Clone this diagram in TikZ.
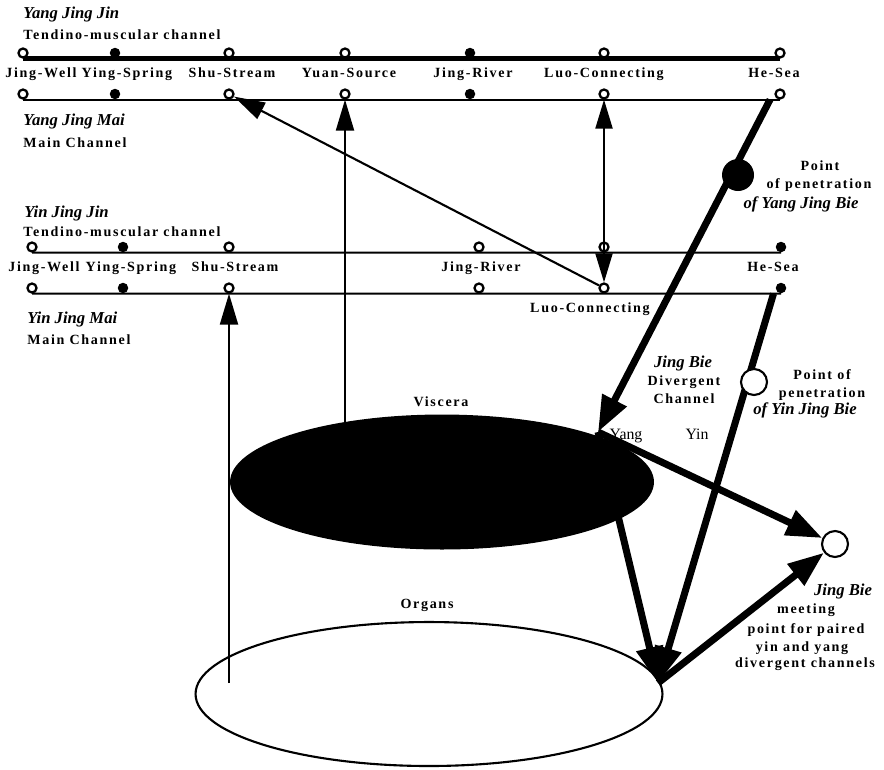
\documentclass[tikz,border=0pt]{standalone}
\usepackage{fontspec}
\setmainfont{Liberation Serif}
\newfontfamily\spacedfont[LetterSpace=12]{Liberation Serif}
\usetikzlibrary{arrows.meta}
\usetikzlibrary{shapes.geometric}

\tikzset{
  opt/.style={circle,draw,line width=1.3pt,fill=white,inner sep=0pt,minimum size=0.18cm},
  fpt/.style={circle,fill,inner sep=0pt,minimum size=0.21cm},
  lbl/.style={font=\spacedfont\bfseries\fontsize{8}{9}\selectfont,inner sep=0pt,anchor=base},
  ttl/.style={font=\bfseries\itshape\fontsize{9.5}{11}\selectfont,inner sep=0pt,anchor=base west},
  plain/.style={font=\fontsize{9}{10}\selectfont,inner sep=0pt,anchor=base},
  thinarrow/.style={line width=1.2pt,-{Triangle[length=0.62cm,width=0.36cm]}},
  thinboth/.style={line width=1.2pt,{Triangle[length=0.58cm,width=0.34cm]}-{Triangle[length=0.58cm,width=0.34cm]}},
  fatarrow/.style={line width=4pt,-{Triangle[length=0.72cm,width=0.52cm]}},
}

\begin{document}
\begin{tikzpicture}[x=0.02cm,y=-0.02cm]
\useasboundingbox (0,0) rectangle (884,769);

% yang points
\foreach \x/\k/\s in {23/1/opt,115/2/fpt,229/3/opt,345/4/opt,470/5/fpt,604/6/opt,780/7/opt}{
  \node[\s] (yangjin\k) at (\x,53) {};
  \node[\s] (yangmai\k) at (\x,94) {};
}
% yin points
\foreach \x/\k/\s in {32/1/opt,123/2/fpt,229/3/opt,479/5/opt,604/6/opt,781/7/fpt}{
  \node[\s] (yinjin\k) at (\x,247) {};
  \node[\s] (yinmai\k) at (\x,288) {};
}
\draw[line width=2.8pt] (yangjin1.south) -- (yangjin7.south);
\draw[line width=1.2pt] (yangmai1.south) -- (yangmai7.south);
\draw[line width=1.2pt] (yinjin1.south) -- (yinjin7.south);
\draw[line width=1.2pt] (yinmai1.south) -- (yinmai7.south);

% titles
\node[ttl] (yangjinname) at (23,18) {Yang Jing Jin};
\node[lbl,anchor=base west] (yangjintype) at (23,39) {Tendino-muscular channel};
\node[ttl] (yangmainame) at (23,125) {Yang Jing Mai};
\node[lbl,anchor=base west] (yangmaitype) at (23,147) {Main Channel};
\node[ttl] (yinjinname) at (24,217) {Yin Jing Jin};
\node[lbl,anchor=base west] (yinjintype) at (23,236) {Tendino-muscular channel};
\node[ttl] (yinmainame) at (27,323) {Yin Jing Mai};
\node[lbl,anchor=base west] (yinmaitype) at (27,344) {Main Channel};

% point names
\foreach \x/\t [count=\i] in {41/Jing-Well,127/Ying-Spring,232/Shu-Stream,349/Yuan-Source,473/Jing-River,604/Luo-Connecting,774/He-Sea}
  \node[lbl] (yangname\i) at (\x,77) {\t};
\foreach \x/\t [count=\i] in {44/Jing-Well,131/Ying-Spring,235/Shu-Stream,481/Jing-River,773/He-Sea}
  \node[lbl] (yinname\i) at (\x,271) {\t};
\node[lbl] (yinluo) at (590,312) {Luo-Connecting};

% viscera and organs
\node[ellipse,fill,minimum width=8.48cm,minimum height=2.7cm,inner sep=0pt] (viscera) at (442,482) {};
\node[ellipse,draw,line width=1.2pt,minimum width=9.34cm,minimum height=2.88cm,inner sep=0pt] (organs) at (429,694) {};
\node[lbl] (viscname) at (441,406) {Viscera};
\node[lbl] (orgname) at (427,608) {Organs};

\coordinate (yangtip) at (598,432);
\coordinate (organtip) at (658,683);

% connections
\draw[thinarrow] (yangmai4 |- viscera) -- (yangmai4);
\draw[thinarrow] (yinmai3 |- organtip) -- (yinmai3);
\draw[thinboth] (yangmai6) -- (yinmai6);
\draw[thinarrow] (yinmai6) -- (yangmai3);
\draw[fatarrow] ([xshift=-0.2cm]yangmai7.south) -- (yangtip);
\draw[fatarrow] ([xshift=-0.15cm]yinmai7.south) -- (organtip);
\draw[fatarrow] (yangtip) -- (organtip);

\node[circle,fill,minimum size=0.64cm,inner sep=0pt] (pyang) at (738,175) {};
\node[circle,draw,line width=1.2pt,fill=white,minimum size=0.52cm,inner sep=0pt] (pyin) at (754,382) {};
\node[circle,draw,line width=1.2pt,fill=white,minimum size=0.52cm,inner sep=0pt] (meet) at (835,544) {};

\draw[fatarrow] (yangtip) -- (meet);
\draw[fatarrow] (organtip) -- (meet);

% side texts
\node[lbl] (pyangtxt1) at (820,170) {Point};
\node[lbl] (pyangtxt2) at (819,188) {of penetration};
\node[ttl,anchor=base] (pyangtxt3) at (801,208) {of Yang Jing Bie};
\node[ttl,anchor=base] (bietxt) at (683,367) {Jing Bie};
\node[lbl] (bietxt1) at (684,385) {Divergent};
\node[lbl] (bietxt2) at (684,403) {Channel};
\node[lbl] (pyintxt1) at (822,379) {Point of};
\node[lbl] (pyintxt2) at (822,397) {penetration};
\node[ttl,anchor=base] (pyintxt3) at (805,414) {of Yin Jing Bie};
\node[plain] (yangtxt) at (626,439) {Yang};
\node[plain] (yintxt) at (697,439) {Yin};
\node[ttl,anchor=base] (meettxt) at (843,595) {Jing Bie};
\node[lbl] (meettxt1) at (806,613) {meeting};
\node[lbl] (meettxt2) at (806,633) {point for paired};
\node[lbl] (meettxt3) at (802,651) {yin and yang};
\node[lbl] (meettxt4) at (805,667) {divergent channels};
\end{tikzpicture}
\end{document}
